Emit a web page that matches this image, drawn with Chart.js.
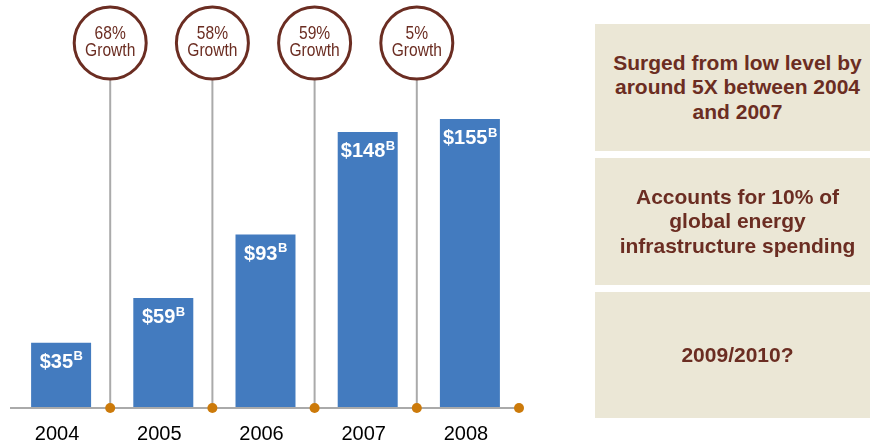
<!DOCTYPE html>
<html>
<head>
<meta charset="utf-8">
<script src="https://cdn.jsdelivr.net/npm/chart.js@4"></script>
<style>
  html, body { margin: 0; padding: 0; background: #fff; }
  #wrap { position: relative; width: 870px; height: 445px; overflow: hidden; }
  #c { position: absolute; left: 0; top: 0; }
  .box { position: absolute; left: 595px; width: 285px; background: #ebe7d6;
         display: flex; align-items: center; justify-content: center; text-align: center;
         color: #6b2d22; font: bold 21px "Liberation Sans", Arial, sans-serif; line-height: 24.5px; }
  .box span { display: block; width: 285px; }
</style>
</head>
<body>
<div id="wrap">
  <canvas id="c" width="870" height="460"></canvas>
  <div class="box" style="top:24px;height:127px;"><span>Surged from low level by<br>around 5X between 2004<br>and 2007</span></div>
  <div class="box" style="top:158px;height:127px;"><span>Accounts for 10% of<br>global energy<br>infrastructure spending</span></div>
  <div class="box" style="top:292px;height:126px;"><span>2009/2010?</span></div>
</div>
<script>
const categories = ["2004", "2005", "2006", "2007", "2008"];
const spending = [35, 59, 93, 148, 155];
const growthLabels = ["68%", "58%", "59%", "5%"];

const overlay = {
  id: 'overlay',
  afterDatasetsDraw(chart) {
    const ctx = chart.ctx;
    const xs = chart.scales.x;
    const base = chart.chartArea.bottom;
    const cat = xs.getPixelForValue(1) - xs.getPixelForValue(0);
    const seps = categories.map((_, i) => xs.getPixelForValue(i) + 0.5 * cat - 2);
    ctx.save();
    // baseline
    ctx.strokeStyle = '#aaaaaa';
    ctx.lineWidth = 2;
    ctx.beginPath();
    ctx.moveTo(chart.chartArea.left, base);
    ctx.lineTo(seps[seps.length - 1], base);
    ctx.stroke();
    // vertical lines + circles
    const cy = 43, r = 36;
    growthLabels.forEach((g, i) => {
      const x = seps[i];
      ctx.strokeStyle = '#aaaaaa';
      ctx.lineWidth = 2;
      ctx.beginPath();
      ctx.moveTo(x, cy + r + 1);
      ctx.lineTo(x, base);
      ctx.stroke();
      ctx.strokeStyle = '#6b2d22';
      ctx.lineWidth = 3;
      ctx.beginPath();
      ctx.arc(x, cy, r, 0, Math.PI * 2);
      ctx.fillStyle = '#ffffff';
      ctx.fill();
      ctx.stroke();
      ctx.fillStyle = '#6b2d22';
      ctx.font = '19px "Liberation Sans", Arial, sans-serif';
      ctx.textAlign = 'center';
      ctx.textBaseline = 'middle';
      ctx.save();
      ctx.translate(x, 0);
      ctx.scale(0.82, 1);
      ctx.fillText(g, 0, 34);
      ctx.fillText('Growth', 0, 51);
      ctx.restore();
    });
    // dots
    ctx.fillStyle = '#cc7a0a';
    seps.forEach(x => {
      ctx.beginPath();
      ctx.arc(x, base, 5, 0, Math.PI * 2);
      ctx.fill();
    });
    // value labels
    const meta = chart.getDatasetMeta(0);
    meta.data.forEach((bar, i) => {
      const main = '$' + spending[i];
      ctx.font = 'bold 20px "Liberation Sans", Arial, sans-serif';
      const w1 = ctx.measureText(main).width;
      ctx.font = 'bold 13px "Liberation Sans", Arial, sans-serif';
      const w2 = ctx.measureText('B').width;
      const total = w1 + w2;
      const x0 = bar.x - total / 2;
      const y = bar.y + 20;
      ctx.fillStyle = '#ffffff';
      ctx.textAlign = 'left';
      ctx.textBaseline = 'middle';
      ctx.font = 'bold 20px "Liberation Sans", Arial, sans-serif';
      ctx.fillText(main, x0, y);
      ctx.font = 'bold 13px "Liberation Sans", Arial, sans-serif';
      ctx.fillText('B', x0 + w1 + 0.5, y - 6);
    });
    ctx.restore();
  }
};

new Chart(document.getElementById('c'), {
  type: 'bar',
  data: {
    labels: categories,
    datasets: [{
      data: spending,
      backgroundColor: '#437bbf',
      barPercentage: 0.587,
      categoryPercentage: 1.0
    }]
  },
  options: {
    responsive: false,
    animation: false,
    events: [],
    layout: { padding: { left: 10, right: 349, top: 35, bottom: 0 } },
    plugins: { legend: { display: false }, tooltip: { enabled: false } },
    scales: {
      x: {
        grid: { display: false, drawTicks: false },
        border: { display: false },
        ticks: { color: '#000000', font: { size: 20, family: '"Liberation Sans", Arial, sans-serif' }, padding: 14, labelOffset: -4 }
      },
      y: {
        display: false,
        min: 0,
        max: 200
      }
    }
  },
  plugins: [overlay]
});
</script>
</body>
</html>
